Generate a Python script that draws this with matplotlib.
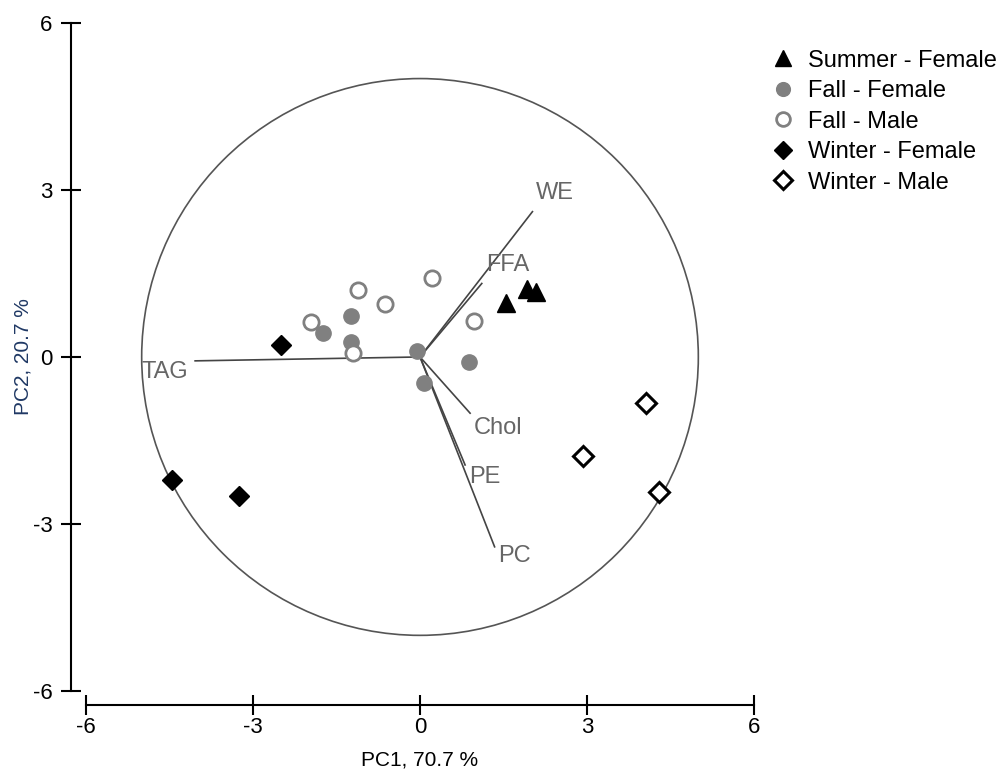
import numpy as np
import matplotlib
matplotlib.use("Agg")
import matplotlib.pyplot as plt
from matplotlib.patches import Circle

plt.rcParams['font.family'] = ['Liberation Sans', 'DejaVu Sans']
plt.rcParams['axes.unicode_minus'] = False

# PCA scores by group
summer_f_x = [1.54, 1.92, 2.08]
summer_f_y = [0.97, 1.22, 1.17]
fall_f_x = [-1.74, -1.24, -1.24, -0.05, 0.07, 0.88]
fall_f_y = [0.43, 0.74, 0.27, 0.11, -0.47, -0.09]
fall_m_x = [-1.96, -1.11, -0.63, 0.22, 0.97, -1.21]
fall_m_y = [0.62, 1.20, 0.96, 1.42, 0.65, 0.07]
winter_f_x = [-2.49, -4.45, -3.25]
winter_f_y = [0.21, -2.21, -2.50]
winter_m_x = [4.06, 2.92, 4.29]
winter_m_y = [-0.82, -1.77, -2.43]

# loading vectors (scaled) and label positions
lipids = ['WE', 'FFA', 'TAG', 'Chol', 'PE', 'PC']
load_x = [2.02, 1.11, -4.04, 0.90, 0.81, 1.34]
load_y = [2.61, 1.32, -0.07, -1.01, -1.94, -3.41]
lab_x = [2.42, 1.58, -4.58, 1.40, 1.17, 1.69]
lab_y = [2.95, 1.65, -0.27, -1.28, -2.16, -3.57]

circle_r = 5

fig = plt.figure(figsize=(10.06, 7.76), dpi=100)
ax = fig.add_axes([0.0855, 0.1095, 0.664, 0.861])

ax.add_patch(Circle((0, 0), circle_r, fill=False, ec='#555555', lw=1.2))

for lx, ly, tx, ty, name in zip(load_x, load_y, lab_x, lab_y, lipids):
    ax.plot([0, lx], [0, ly], color='#444444', lw=1.2, zorder=2)
    ax.text(tx, ty, name, color='#666666', fontsize=17, ha='center', va='center')

ax.plot(fall_f_x, fall_f_y, 'o', ms=11, color='#808080', mec='#808080',
        ls='none', label='Fall - Female', zorder=3)
ax.plot(fall_m_x, fall_m_y, 'o', ms=11, mfc='white', mec='#808080', mew=2,
        ls='none', label='Fall - Male', zorder=3)
ax.plot(summer_f_x, summer_f_y, '^', ms=13, color='black',
        ls='none', label='Summer - Female', zorder=4)
ax.plot(winter_f_x, winter_f_y, 'D', ms=10, color='black',
        ls='none', label='Winter - Female', zorder=4)
ax.plot(winter_m_x, winter_m_y, 'D', ms=10, mfc='white', mec='black', mew=2.2,
        ls='none', label='Winter - Male', zorder=4)

ax.set_xlim(-6, 6)
ax.set_ylim(-6, 6)
ax.set_xticks([-6, -3, 0, 3, 6])
ax.set_yticks([-6, -3, 0, 3, 6])
ax.spines['top'].set_visible(False)
ax.spines['right'].set_visible(False)
ax.spines['left'].set_position(('outward', 11))
ax.spines['bottom'].set_position(('outward', 10))
for s in ('left', 'bottom'):
    ax.spines[s].set_linewidth(1.5)
ax.tick_params(direction='inout', length=14, width=1.5, labelsize=16)
ax.tick_params(axis='y', pad=6)
ax.tick_params(axis='x', pad=2)
ax.set_xlabel('PC1, 70.7 %', fontsize=15, labelpad=9)
ax.set_ylabel('PC2, 20.7 %', fontsize=15, color='#1f3864', labelpad=0)

handles, labels = ax.get_legend_handles_labels()
order = ['Summer - Female', 'Fall - Female', 'Fall - Male', 'Winter - Female', 'Winter - Male']
h = [handles[labels.index(o)] for o in order]
leg = fig.legend(h, order, loc='upper left', bbox_to_anchor=(0.762, 0.942),
                 frameon=False, fontsize=17, handletextpad=0.55, labelspacing=0.36,
                 handlelength=1.0, markerscale=0.9, borderaxespad=0, borderpad=0.2)

fig.savefig('out.png', dpi=100)
